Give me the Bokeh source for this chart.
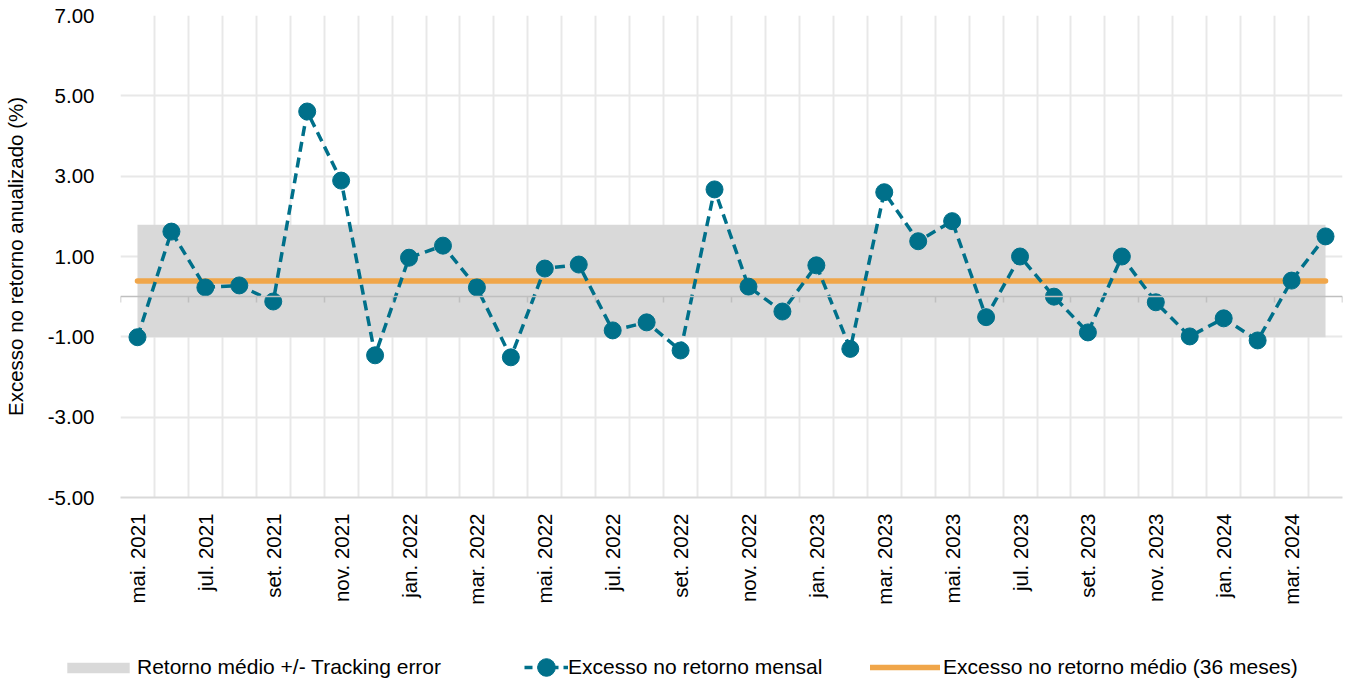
import math
from bokeh.plotting import figure
from bokeh.models import (Range1d, FixedTicker, LinearAxis, Legend, LegendItem,
                          NumeralTickFormatter)
from bokeh.embed import file_html
from bokeh.resources import INLINE

months = ["mai. 2021", "jun. 2021", "jul. 2021", "ago. 2021", "set. 2021", "out. 2021",
          "nov. 2021", "dez. 2021", "jan. 2022", "fev. 2022", "mar. 2022", "abr. 2022",
          "mai. 2022", "jun. 2022", "jul. 2022", "ago. 2022", "set. 2022", "out. 2022",
          "nov. 2022", "dez. 2022", "jan. 2023", "fev. 2023", "mar. 2023", "abr. 2023",
          "mai. 2023", "jun. 2023", "jul. 2023", "ago. 2023", "set. 2023", "out. 2023",
          "nov. 2023", "dez. 2023", "jan. 2024", "fev. 2024", "mar. 2024", "abr. 2024"]
excess_monthly = [-1.01, 1.62, 0.23, 0.28, -0.12, 4.61, 2.89, -1.46, 0.97, 1.27, 0.23, -1.51,
                  0.70, 0.80, -0.84, -0.64, -1.34, 2.67, 0.25, -0.37, 0.78, -1.30, 2.60, 1.38,
                  1.88, -0.51, 1.00, 0.00, -0.89, 1.00, -0.14, -0.99, -0.54, -1.09, 0.40, 1.50]
mean_excess = 0.39
tracking_error = 1.40
y_ticks = [-5, -3, -1, 1, 3, 5, 7]

FONT = "Liberation Sans"
TEAL = "#00708a"
ORANGE = "#f0a64a"
BAND = "#d9d9d9"
GRID = "#e8e8e8"

n = len(months)
x = list(range(1, n + 1))
mean_series = [mean_excess] * n
band_low = [mean_excess - tracking_error] * n
band_high = [mean_excess + tracking_error] * n

p = figure(width=1346, height=630, output_backend="svg", toolbar_location=None,
           x_range=Range1d(0.5, n + 0.5), y_range=Range1d(-5, 7),
           min_border_left=120, min_border_right=4, min_border_top=15, min_border_bottom=133)
p.outline_line_color = None
p.background_fill_color = "white"

# grid
p.xgrid.ticker = FixedTicker(ticks=[i + 0.5 for i in range(0, n + 1)])
p.ygrid.ticker = FixedTicker(ticks=y_ticks)
p.xgrid.grid_line_color = GRID
p.ygrid.grid_line_color = GRID
p.xgrid.grid_line_width = 2
p.ygrid.grid_line_width = 2

# y axis
p.yaxis.ticker = FixedTicker(ticks=y_ticks)
p.yaxis.formatter = NumeralTickFormatter(format="0.00")
p.yaxis.axis_line_color = None
p.yaxis.major_tick_line_color = None
p.yaxis.minor_tick_line_color = None
p.yaxis.major_label_standoff = 20
p.yaxis.major_label_text_font = FONT
p.yaxis.major_label_text_font_size = "20.5px"
p.yaxis.major_label_text_color = "black"
p.yaxis.axis_label = "Excesso no retorno anualizado (%)"
p.yaxis.axis_label_text_font = FONT
p.yaxis.axis_label_text_font_size = "20.5px"
p.yaxis.axis_label_text_font_style = "normal"
p.yaxis.axis_label_text_color = "black"
p.yaxis.axis_label_standoff = 18

# x axis (labels at bottom)
label_ticks = x[::2]
p.xaxis.ticker = FixedTicker(ticks=label_ticks)
p.xaxis.major_label_overrides = {t: months[t - 1] for t in label_ticks}
p.xaxis.major_label_orientation = math.pi / 2
p.xaxis.axis_line_color = "#d9d9d9"
p.xaxis.axis_line_width = 2
p.xaxis.major_tick_line_color = None
p.xaxis.minor_tick_line_color = None
p.xaxis.major_label_standoff = 10
p.xaxis.major_label_text_font = FONT
p.xaxis.major_label_text_font_size = "20.5px"
p.xaxis.major_label_text_color = "black"

# horizontal axis crossing at zero (ticks every two months, pointing down)
zero_ticks = [i + 0.5 for i in range(0, n + 1, 2)]
zero_axis = LinearAxis(fixed_location=0,
                       ticker=FixedTicker(ticks=zero_ticks),
                       major_label_overrides={t: "" for t in zero_ticks},
                       major_label_standoff=0,
                       axis_line_color="#bfbfbf", axis_line_width=1.5,
                       major_tick_line_color="#bfbfbf", major_tick_line_width=1.5,
                       major_tick_in=6, major_tick_out=0,
                       minor_tick_line_color=None)
p.add_layout(zero_axis, "above")

band_r = p.varea(x=x, y1=band_low, y2=band_high, fill_color=BAND)
mean_r = p.line(x=x, y=mean_series, line_color=ORANGE, line_width=5.5, line_cap="round")
line_r = p.line(x=x, y=excess_monthly, line_color=TEAL, line_width=3.5, line_dash="10 6")
pts_r = p.scatter(x=x, y=excess_monthly, size=17, marker="circle",
                  fill_color=TEAL, line_color=TEAL)

# legend strip (separate root below the chart); its series sit outside its view
leg = figure(width=1346, height=51, output_backend="svg", toolbar_location=None,
             x_range=Range1d(100, 101), y_range=Range1d(100, 101),
             x_axis_type=None, y_axis_type=None, min_border=0)
leg.outline_line_color = None
leg.grid.visible = False
lb = leg.varea(x=x, y1=band_low, y2=band_high, fill_color=BAND)
ll = leg.line(x=x, y=excess_monthly, line_color=TEAL, line_width=3.5, line_dash="8 5")
lp = leg.scatter(x=x, y=excess_monthly, size=17, marker="circle",
                 fill_color=TEAL, line_color=TEAL)
lm = leg.line(x=x, y=mean_series, line_color=ORANGE, line_width=5.5, line_cap="round")

def make_legend(label, renderers, loc, gw, gh, standoff):
    lg = Legend(items=[LegendItem(label=label, renderers=renderers)],
                location=loc, orientation="horizontal",
                glyph_width=gw, glyph_height=gh, label_standoff=standoff,
                padding=0, margin=0, spacing=0,
                border_line_color=None, background_fill_alpha=0,
                label_text_font=FONT, label_text_font_size="21px",
                label_text_color="black", label_height=20)
    leg.add_layout(lg, "center")

make_legend("Retorno médio +/- Tracking error", [lb], (59, 2), 78, 13, 0)
make_legend("Excesso no retorno mensal", [ll, lp], (524, -8), 44, 44, 0)
make_legend("Excesso no retorno médio (36 meses)", [mm] if False else [lm], (870, 2), 70, 20, 3)

open("out.html", "w").write(file_html([p, leg], INLINE))
